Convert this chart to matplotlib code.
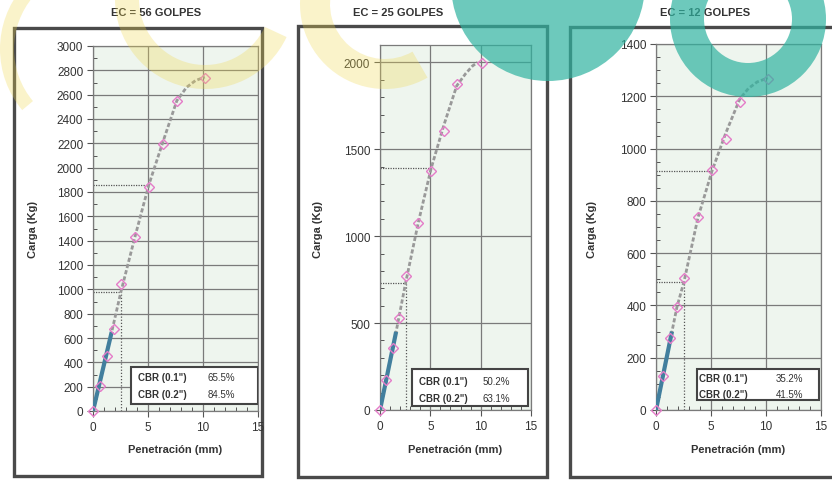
"""plot.py: three CBR load / penetration curves (EC = 56, 25, 12 golpes)"""

import numpy as np
import matplotlib.pyplot as plt
from matplotlib.patches import Rectangle, Wedge, Circle
from matplotlib.ticker import MultipleLocator

plt.rcParams['font.family'] = ['Liberation Sans', 'DejaVu Sans']

W, H = 832, 481

titles = ['EC = 56 GOLPES', 'EC = 25 GOLPES', 'EC = 12 GOLPES']

# measured points (penetracion mm, carga kg)
pen = [0, 0.64, 1.27, 1.91, 2.54, 3.81, 5.08, 6.35, 7.62, 10.16]
load_56 = [0, 205, 450, 672, 1045, 1430, 1840, 2195, 2545, 2740]
load_25 = [0, 173, 357, 530, 772, 1078, 1377, 1605, 1873, 1994]
load_12 = [0, 130, 276, 395, 506, 739, 917, 1035, 1180, 1267]

# corrected curves
curve_x_56 = [0, 1.7, 2.54, 3.81, 5.08, 6.35, 7.62, 8.5, 9.3, 10.16]
curve_y_56 = [0, 650, 980, 1430, 1860, 2210, 2550, 2660, 2715, 2745]
curve_x_25 = [0, 1.6, 2.54, 3.81, 5.08, 6.35, 7.62, 8.5, 9.2, 9.7]
curve_y_25 = [0, 450, 730, 1080, 1390, 1640, 1865, 1935, 1980, 2000]
curve_x_12 = [0, 1.45, 1.91, 2.54, 3.81, 5.08, 6.35, 7.62, 8.4, 9.2, 10.16]
curve_y_12 = [0, 300, 395, 490, 735, 913, 1060, 1190, 1230, 1255, 1270]

# straight initial segment (blue)
tangent_x = [1.7, 1.6, 1.45]
tangent_y = [650, 450, 300]

# loads at 0.1" and 0.2"
load_01 = [980, 730, 490]
load_02 = [1860, 1390, 913]
cbr_01 = ['65.5%', '50.2%', '35.2%']
cbr_02 = ['84.5%', '63.1%', '41.5%']

y_max = [3000, 2100, 1400]
y_step = [200, 500, 200]
y_minor = [100, 100, 50]

loads = [load_56, load_25, load_12]
curves = [(curve_x_56, curve_y_56), (curve_x_25, curve_y_25), (curve_x_12, curve_y_12)]

# layout in pixels
ax_px = [(93, 258, 47, 412), (380, 531, 46, 411), (656, 821, 45, 411)]
frame_px = [(14, 29, 262, 477), (298, 27, 547, 478), (570, 28, 840, 478)]
title_x = [156, 398, 705]
ylabel_x = [33, 318, 592]
box_pos = [(0.23, 0.02, 0.77, 0.10, 0.42, 0.78, 0.093, 0.047),
           (0.21, 0.011, 0.77, 0.101, 0.42, 0.77, 0.080, 0.034),
           (0.25, 0.027, 0.74, 0.085, 0.41, 0.81, 0.088, 0.045)]

fig = plt.figure(figsize=(W / 100, H / 100), dpi=100)

# background with chart frames
bg = fig.add_axes([0, 0, 1, 1], zorder=-5)
bg.set_xlim(0, W)
bg.set_ylim(H, 0)
bg.axis('off')
for x0, y0, x1, y1 in frame_px:
	bg.add_patch(Rectangle((x0, y0), x1 - x0, y1 - y0, facecolor='white',
		edgecolor='#4a4a4a', lw=2.4))

for i in range(3):
	l, r, t, b = ax_px[i]
	ax = fig.add_axes([l / W, 1 - b / H, (r - l) / W, (b - t) / H])
	ax.set_facecolor('#eef5ee')

	cx, cy = curves[i]
	ax.plot(cx, cy, color='#999999', lw=2, ls=(0, (1.5, 0.8)), zorder=3)
	ax.plot([0, tangent_x[i]], [0, tangent_y[i]], color='#427f9e', lw=3,
		solid_capstyle='butt', zorder=4)

	# reference lines at 2.54 and 5.08 mm
	ax.plot([2.54, 2.54], [0, load_01[i]], color='#555555', lw=0.9, ls=(0, (1, 1.5)), zorder=2)
	ax.plot([0, 2.54], [load_01[i], load_01[i]], color='#555555', lw=0.9, ls=(0, (1, 1)), zorder=2)
	ax.plot([0, 5.08], [load_02[i], load_02[i]], color='#555555', lw=0.9, ls=(0, (1, 1)), zorder=2)

	ax.plot(pen, loads[i], ls='none', marker='D', ms=5, mfc='none', mec='#e47cc8',
		mew=1, zorder=5, clip_on=False)

	ax.set_xlim(0, 15)
	ax.set_ylim(0, y_max[i])
	ax.xaxis.set_major_locator(MultipleLocator(5))
	ax.xaxis.set_minor_locator(MultipleLocator(1))
	ax.yaxis.set_major_locator(MultipleLocator(y_step[i]))
	ax.yaxis.set_minor_locator(MultipleLocator(y_minor[i]))
	ax.grid(True, which='major', color='#7a7a7a', lw=0.9)
	ax.set_axisbelow(True)
	ax.tick_params(which='major', direction='out', length=4, width=0.8,
		color='#555555', labelsize=8.5, labelcolor='#333333', pad=3)
	ax.tick_params(which='minor', direction='in', length=3, width=0.7, color='#555555')
	for s in ax.spines.values():
		s.set_color('#7a7a7a')
		s.set_linewidth(0.9)

	bx, by, bw, bh, lx, vx, r1, r2 = box_pos[i]
	ax.add_patch(Rectangle((bx, by), bw, bh, transform=ax.transAxes, facecolor='white',
		edgecolor='#444444', lw=1.5, zorder=6))
	ax.text(lx, r1, 'CBR (0.1")', transform=ax.transAxes, ha='center', va='center',
		fontsize=7, fontweight='bold', color='#333333', zorder=7)
	ax.text(lx, r2, 'CBR (0.2")', transform=ax.transAxes, ha='center', va='center',
		fontsize=7, fontweight='bold', color='#333333', zorder=7)
	ax.text(vx, r1, cbr_01[i], transform=ax.transAxes, ha='center', va='center',
		fontsize=7, color='#333333', zorder=7)
	ax.text(vx, r2, cbr_02[i], transform=ax.transAxes, ha='center', va='center',
		fontsize=7, color='#333333', zorder=7)

	fig.text(title_x[i] / W, 1 - 13 / H, titles[i], ha='center', va='center',
		fontsize=8, fontweight='bold', color='#333333')
	fig.text(ylabel_x[i] / W, 1 - 229 / H, 'Carga (Kg)', ha='center', va='center',
		rotation=90, fontsize=8, fontweight='bold', color='#333333')
	fig.text((l + r) / 2 / W, 1 - 450 / H, 'Penetración (mm)', ha='center', va='center',
		fontsize=8, fontweight='bold', color='#333333')

# watermark shapes laid over the scan
ov = fig.add_axes([0, 0, 1, 1], zorder=20)
ov.set_xlim(0, W)
ov.set_ylim(H, 0)
ov.axis('off')
yellow = '#f0d850'
teal = '#2fb3a0'
ov.add_patch(Wedge((205, 0), 90, 25, 180, width=24, color=yellow, alpha=0.3, lw=0))
ov.add_patch(Wedge((385, 5), 85, 60, 200, width=30, color=yellow, alpha=0.3, lw=0))
ov.add_patch(Wedge((95, 50), 95, 140, 220, width=14, color=yellow, alpha=0.3, lw=0))
ov.add_patch(Circle((548, -15), 97, color=teal, alpha=0.7, lw=0))
ov.add_patch(Wedge((748, 20), 78, 0, 360, width=34, color=teal, alpha=0.7, lw=0))

fig.savefig('out.png', dpi=100)
